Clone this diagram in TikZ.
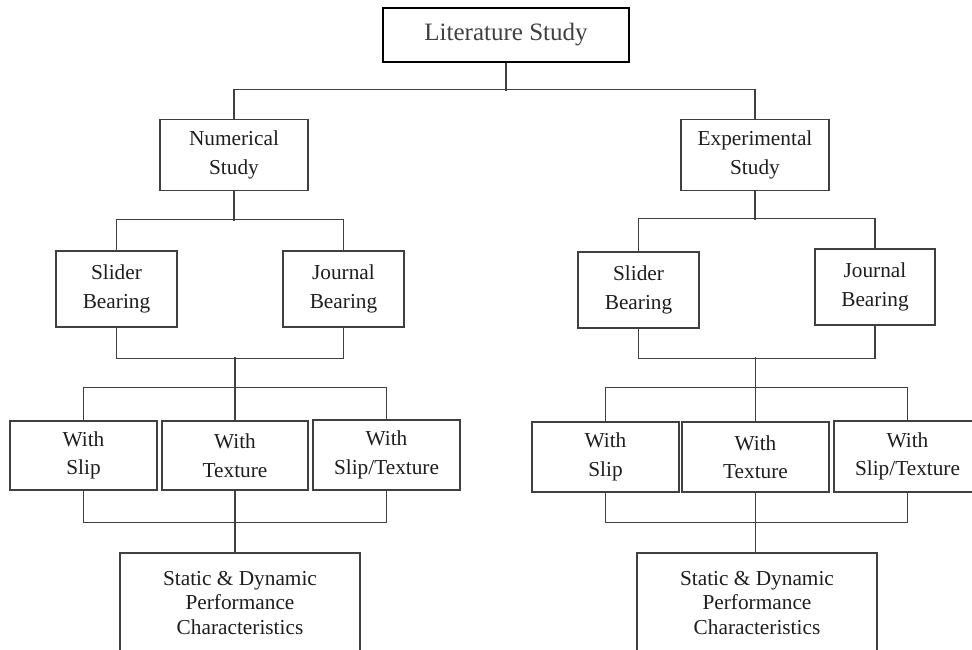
\documentclass[tikz,border=0pt]{standalone}
\usepackage{fontspec}
\setmainfont{Liberation Serif}
\usepackage{tikz}

\definecolor{boxline}{HTML}{404040}
\definecolor{inktext}{HTML}{1E1E1E}

\tikzset{
  box/.style={draw=boxline, line width=1.4pt, fill=white, align=center,
    text=inktext, inner sep=0pt, font=\fontsize{21.3}{28.5}\selectfont},
  resultbox/.style={box, minimum width=240pt, minimum height=100pt,
    font=\fontsize{21.3}{24.5}\selectfont},
  topbox/.style={draw=black, line width=2.4pt, align=center,
    text=black!75, inner sep=0pt, font=\fontsize{25}{30}\selectfont},
  link/.style={draw=boxline, line width=1.3pt}
}

\begin{document}
\begin{tikzpicture}[x=1pt,y=-1pt]
\clip (0,0) rectangle (972,650);
\fill[white] (0,0) rectangle (972,650);

% top
\node[topbox, minimum width=246pt, minimum height=54pt] (lit) at (506,35) {Literature Study};

% left branch
\node[box, minimum width=148pt, minimum height=71pt] (num) at (234,155) {Numerical\\Study};
\node[box, minimum width=121pt, minimum height=76pt] (sl1) at (116.5,289) {Slider\\Bearing};
\node[box, minimum width=121pt, minimum height=76pt] (jb1) at (343.5,289) {Journal\\Bearing};
\node[box, minimum width=147pt, minimum height=69pt] (ws1) at (83.5,455.5) {With\\Slip};
\node[box, minimum width=146pt, minimum height=69pt] (wt1) at (235,455.5) {With\\Texture};
\node[box, minimum width=147pt, minimum height=70pt] (wst1) at (386.5,455) {With\\Slip/Texture};
\node[resultbox] (sd1) at (240,603) {Static \& Dynamic\\Performance\\Characteristics};

% right branch
\node[box, minimum width=148pt, minimum height=71pt] (exp) at (755,155) {Experimental\\Study};
\node[box, minimum width=121pt, minimum height=76pt] (sl2) at (638.5,290) {Slider\\Bearing};
\node[box, minimum width=120pt, minimum height=76pt] (jb2) at (875,287) {Journal\\Bearing};
\node[box, minimum width=147pt, minimum height=70pt] (ws2) at (605.5,457) {With\\Slip};
\node[box, minimum width=147pt, minimum height=70pt] (wt2) at (755.5,457) {With\\Texture};
\node[box, minimum width=147pt, minimum height=71pt] (wst2) at (907.5,456.5) {With\\Slip/Texture};
\node[resultbox] (sd2) at (757,603) {Static \& Dynamic\\Performance\\Characteristics};

% top split
\draw[link] (lit.south) -- ++(0,28);
\draw[link] (num.north) -- ++(0,-29) -| (exp.north);

% left tree
\draw[link] (num.south) -- ++(0,30);
\draw[link] (sl1.north) -- ++(0,-31) -| (jb1.north);
\draw[link] (sl1.south) -- ++(0,31) -| (jb1.south);
\draw[link] (wt1.north) -- ++(0,-63);
\draw[link] (ws1.north) -- ++(0,-33) -| (wst1.north);
\draw[link] (ws1.south) -- ++(0,32) -| (wst1.south);
\draw[link] (wt1.south) -- (wt1.south |- sd1.north);

% right tree
\draw[link] (exp.south) -- ++(0,29);
\draw[link] (sl2.north) -- ++(0,-33) -| (jb2.north);
\draw[link] (sl2.south) -- ++(0,30) -| (jb2.south);
\draw[link] (wt2.north) -- ++(0,-64);
\draw[link] (ws2.north) -- ++(0,-34) -| (wst2.north);
\draw[link] (ws2.south) -- ++(0,30) -| (wst2.south);
\draw[link] (wt2.south) -- (wt2.south |- sd2.north);
\end{tikzpicture}
\end{document}
